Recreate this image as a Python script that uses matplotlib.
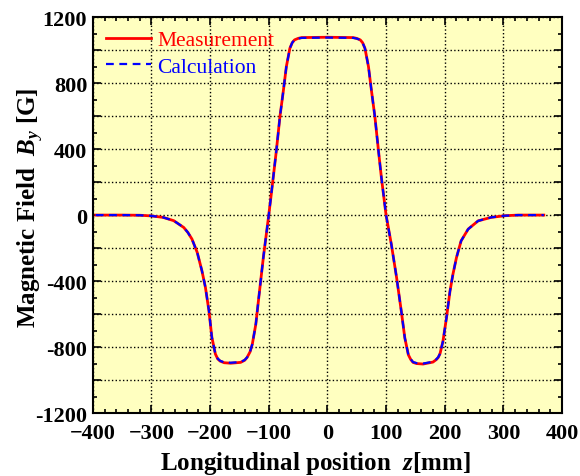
import numpy as np
import matplotlib
matplotlib.use("Agg")
import matplotlib.pyplot as plt
from matplotlib.ticker import MultipleLocator, FuncFormatter

plt.rcParams['font.family'] = ['Liberation Serif', 'DejaVu Serif']
plt.rcParams['mathtext.fontset'] = 'custom'
plt.rcParams['mathtext.rm'] = 'Liberation Serif:bold'
plt.rcParams['mathtext.it'] = 'Liberation Serif:italic:bold'
plt.rcParams['mathtext.bf'] = 'Liberation Serif:bold'

# Positions along the axis [mm]
z = [-395, -350, -320, -300, -280, -262, -245, -238, -231, -222, -214, -208, -202,
     -197, -191, -187, -183, -176, -165, -148, -141, -137, -132, -128, -122, -117, -109, -100, -95,
     -87, -81, -75, -70, -64, -60, -56, -50, -44, 0, 44, 50, 56, 60, 64, 70, 75, 81, 87, 92,
     100, 109, 118, 126, 132, 138, 142, 146, 152, 163, 180, 186, 189, 192, 197, 203, 209, 214,
     220, 228, 240, 257, 279, 302, 325, 369]

# Measured field [G]
b_meas = [0, 0, -1, -5, -14, -34, -75, -105, -145, -226, -337, -438, -580,
          -741, -842, -872, -885, -895, -898, -893, -880, -863, -830, -782, -660, -500, -250, 0, 148,
          392, 595, 757, 900, 1011, 1045, 1062, 1071, 1076, 1078, 1076, 1071, 1062, 1045, 1011, 900, 757, 595, 392, 229,
          0, -177, -380, -583, -745, -847, -875, -893, -900, -903, -891, -875, -863, -840, -765, -623, -461, -359,
          -258, -156, -85, -35, -14, -4, 0, 0]

# Calculated field [G]
b_calc = [0, 0, -1, -5, -14, -34, -75, -105, -145, -226, -337, -438, -580,
          -741, -842, -870, -883, -893, -895, -891, -878, -863, -830, -782, -660, -500, -250, 0, 148,
          392, 595, 757, 900, 1011, 1045, 1062, 1070, 1074, 1076, 1074, 1070, 1062, 1045, 1011, 900, 757, 595, 392, 229,
          0, -177, -380, -583, -745, -847, -873, -891, -897, -900, -889, -873, -861, -840, -765, -623, -461, -359,
          -258, -156, -85, -35, -14, -4, 0, 0]

fig = plt.figure(figsize=(5.8, 4.77), dpi=100)
ax = fig.add_axes([0.160, 0.132, 0.809, 0.830])
ax.set_facecolor('#FFFFC0')

ax.plot(z, b_meas, color='#FF0000', lw=2.0, label='Measurement')
ax.plot(z, b_calc, color='#0000FF', lw=1.6, ls=(0, (3.5, 2.5)), label='Calculation')

ax.set_xlim(-400, 400)
ax.set_ylim(-1200, 1200)
ax.xaxis.set_major_locator(MultipleLocator(100))
ax.xaxis.set_minor_locator(MultipleLocator(20))
ax.yaxis.set_major_locator(MultipleLocator(200))
ax.yaxis.set_minor_locator(MultipleLocator(100))
ax.yaxis.set_major_formatter(FuncFormatter(lambda v, p: '%d' % v if round(v) % 400 == 0 else ''))

ax.tick_params(which='both', direction='in', top=True, right=True, width=1.2)
ax.tick_params(which='major', length=6, labelsize=16)
ax.tick_params(axis='x', which='major', pad=7)
ax.tick_params(axis='y', which='major', pad=4)
ax.tick_params(which='minor', length=3)
for lab in ax.get_xticklabels() + ax.get_yticklabels():
    lab.set_fontweight('bold')
for s in ax.spines.values():
    s.set_linewidth(1.5)

ax.grid(True, which='major', color='black', ls=':', lw=1.0)

ax.set_xlabel(r'Longitudinal position  $z$[mm]', fontsize=18, fontweight='bold')
ax.set_ylabel(r'Magnetic Field  $B_y$ [G]', fontsize=18, fontweight='bold')
ax.xaxis.set_label_coords(0.475, -0.092)
ax.yaxis.set_label_coords(-0.10, 0.52)

ax.legend(loc='upper left', frameon=False, fontsize=15.5, labelcolor='linecolor',
          handlelength=2.1, handletextpad=0.3, borderaxespad=0.2, labelspacing=0.3)

fig.savefig('out.png', dpi=100)
